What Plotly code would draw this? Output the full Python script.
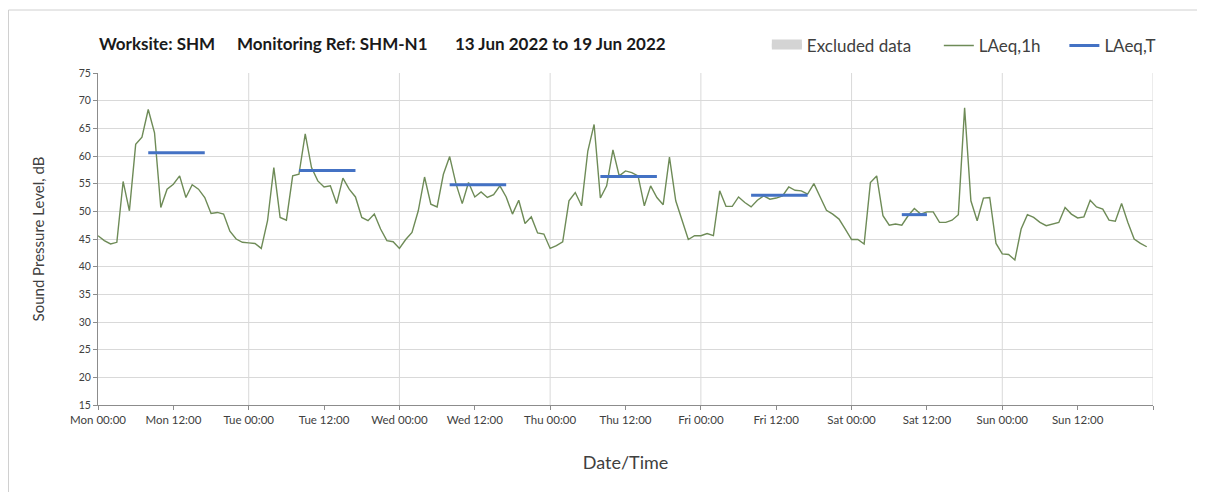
import plotly.graph_objects as go

# ---- data ----
mon = [45.6, 44.7, 44.1, 44.4, 55.4, 50.1, 62.1, 63.4, 68.4, 64.2, 50.7, 54.0,
       54.9, 56.4, 52.5, 54.8, 54.0, 52.5, 49.6, 49.8, 49.5, 46.4, 45.0, 44.4]
tue = [44.3, 44.2, 43.3, 48.3, 57.9, 48.9, 48.4, 56.4, 56.7, 64.0, 57.9, 55.5,
       54.4, 54.6, 51.4, 56.0, 54.0, 52.6, 48.9, 48.3, 49.5, 46.8, 44.7, 44.5]
wed = [43.3, 44.9, 46.2, 50.1, 56.2, 51.3, 50.8, 56.7, 59.9, 55.0, 51.4, 55.2,
       52.6, 53.5, 52.5, 53.0, 54.6, 52.6, 49.5, 52.0, 47.8, 49.0, 46.1, 45.9]
thu = [43.3, 43.8, 44.5, 51.9, 53.4, 51.0, 60.9, 65.7, 52.4, 54.6, 61.1, 56.4,
       57.3, 57.0, 56.4, 51.0, 54.6, 52.5, 51.2, 59.8, 51.9, 48.4, 44.9, 45.6]
fri = [45.6, 46.0, 45.6, 53.7, 50.9, 50.9, 52.6, 51.6, 50.8, 52.0, 52.8, 52.2,
       52.4, 52.8, 54.4, 53.8, 53.7, 53.1, 55.0, 52.6, 50.2, 49.5, 48.6, 46.8]
sat = [44.9, 44.9, 44.1, 55.2, 56.4, 49.2, 47.5, 47.7, 47.5, 49.2, 50.5, 49.5,
       49.9, 49.9, 48.0, 48.0, 48.4, 49.4, 68.7, 51.9, 48.3, 52.4, 52.5, 44.2]
sun = [42.3, 42.2, 41.2, 46.8, 49.4, 48.9, 48.0, 47.4, 47.7, 48.0, 50.7, 49.5,
       48.8, 49.0, 52.0, 50.8, 50.4, 48.4, 48.2, 51.4, 48.0, 45.0, 44.2, 43.6]

laeq_1h = mon + tue + wed + thu + fri + sat + sun
hours = list(range(len(laeq_1h)))

# LAeq,T daytime period per day (day index, start hour, end hour, level)
laeqT_day = [0, 1, 2, 3, 4, 5]
laeqT_start = [8, 8, 8, 8, 8, 8]
laeqT_end = [17, 17, 17, 17, 17, 12]
laeqT_value = [60.6, 57.4, 54.8, 56.3, 52.9, 49.4]

tick_hours = [0, 12, 24, 36, 48, 60, 72, 84, 96, 108, 120, 132, 144, 156, 168]
tick_labels = ["Mon 00:00", "Mon 12:00", "Tue 00:00", "Tue 12:00", "Wed 00:00",
               "Wed 12:00", "Thu 00:00", "Thu 12:00", "Fri 00:00", "Fri 12:00",
               "Sat 00:00", "Sat 12:00", "Sun 00:00", "Sun 12:00", ""]
day_lines = [24, 48, 72, 96, 120, 144, 168]

title_parts = ["Worksite: SHM", "Monitoring Ref: SHM-N1", "13 Jun 2022 to 19 Jun 2022"]

# ---- build ----
tx, ty = [], []
for d, s, e, v in zip(laeqT_day, laeqT_start, laeqT_end, laeqT_value):
    tx += [d * 24 + s, d * 24 + e, None]
    ty += [v, v, None]

FONT = "Lato"
TXT = "#404040"
# geometry (window pixels); page body has an 8px margin
W, H = 1197, 484
PL, PT, PW, PH = 98, 73, 1055, 332


def px_x(x):
    return (x - PL) / PW


def px_y(y):
    return (PT + PH - y) / PH


fig = go.Figure()
fig.add_trace(go.Scatter(
    x=[None], y=[None], name="Excluded data", mode="lines", fill="toself",
    fillcolor="#d4d4d4", line=dict(width=8, color="#d4d4d4"), legend="legend"))
fig.add_trace(go.Scatter(
    x=hours, y=laeq_1h, name="LAeq,1h", mode="lines",
    line=dict(color="#6E8B57", width=1.4), legend="legend2"))
fig.add_trace(go.Scatter(
    x=tx, y=ty, name="LAeq,T", mode="lines",
    line=dict(color="#4472C4", width=3), legend="legend3"))

shapes = []
for h in day_lines:
    shapes.append(dict(type="line", xref="x", yref="paper", x0=h, x1=h, y0=0, y1=1,
                       line=dict(color="#d9d9d9", width=1), layer="below"))
# figure frame (top and left edges)
shapes.append(dict(type="line", xref="paper", yref="paper",
                   x0=px_x(8.5), x1=px_x(1210), y0=px_y(10), y1=px_y(10),
                   line=dict(color="#d0d0d0", width=1)))
shapes.append(dict(type="line", xref="paper", yref="paper",
                   x0=px_x(8.5), x1=px_x(8.5), y0=px_y(10), y1=px_y(500),
                   line=dict(color="#d0d0d0", width=1)))

legend_common = dict(orientation="h", yanchor="middle", y=px_y(46), xanchor="left",
                     font=dict(family=FONT, size=17, color=TXT),
                     bgcolor="rgba(0,0,0,0)", itemwidth=30)

title_x = [97, 235, 453]
annotations = []
for t, x in zip(title_parts, title_x):
    annotations.append(dict(text="<b>" + t + "</b>", xref="paper", yref="paper",
                            x=px_x(x), y=px_y(43), xanchor="left", yanchor="middle",
                            showarrow=False, font=dict(family=FONT, size=17, color="#1a1a1a")))

fig.update_layout(
    width=W, height=H,
    margin=dict(l=PL - 8, r=W - (PL - 8) - PW, t=PT - 8, b=H - (PT - 8) - PH),
    paper_bgcolor="white", plot_bgcolor="white",
    font=dict(family=FONT, color=TXT),
    showlegend=True,
    legend=dict(legend_common, x=0.634),
    legend2=dict(legend_common, x=0.797),
    legend3=dict(legend_common, x=0.916),
    shapes=shapes,
    xaxis=dict(range=[0, 168], tickmode="array", tickvals=tick_hours, ticktext=tick_labels,
               showgrid=False, zeroline=False, showline=True, linecolor="#8c8c8c",
               ticks="outside", ticklen=4, tickcolor="#8c8c8c",
               tickfont=dict(family=FONT, size=11.5, color=TXT),
               title=dict(text="Date/Time", font=dict(family=FONT, size=18, color=TXT), standoff=31)),
    yaxis=dict(range=[15, 75], dtick=5, tick0=15, showgrid=True, gridcolor="#d9d9d9",
               zeroline=False, showline=True, linecolor="#8c8c8c",
               ticks="outside", ticklen=4, tickcolor="#8c8c8c",
               tickfont=dict(family=FONT, size=10.5, color=TXT),
               title=dict(text="Sound Pressure Level, dB", font=dict(family=FONT, size=15, color=TXT),
                          standoff=30)),
    annotations=annotations,
)

fig.write_html("out.html")
